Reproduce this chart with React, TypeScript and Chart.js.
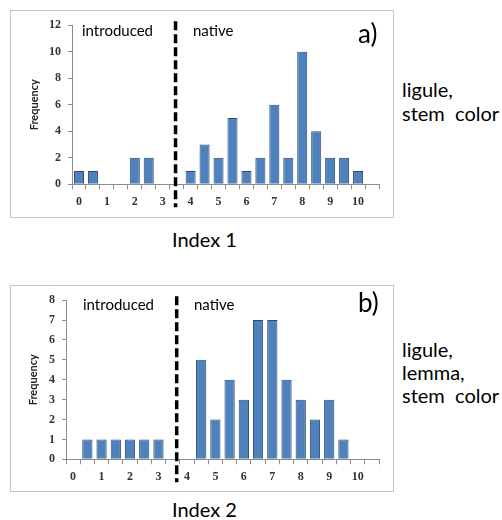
import React, { useEffect, useRef } from "react";
import { Chart, registerables } from "chart.js";

Chart.register(...registerables);

// Bin categories (index value, step 0.5)
const binLabels = [
  "0", "0.5", "1", "1.5", "2", "2.5", "3", "3.5", "4", "4.5", "5",
  "5.5", "6", "6.5", "7", "7.5", "8", "8.5", "9", "9.5", "10", "10.5",
];

// a) Index 1 (ligule, stem color)
const index1Freq = [1, 1, 0, 0, 2, 2, 0, 0, 1, 3, 2, 5, 1, 2, 6, 2, 10, 4, 2, 2, 1, 0];
const index1YMax = 12;
const index1YStep = 2;
const index1Divider = 3.46;

// b) Index 2 (ligule, lemma, stem color)
const index2Freq = [0, 1, 1, 1, 1, 1, 1, 0, 0, 5, 2, 4, 3, 7, 7, 4, 3, 2, 3, 1, 0, 0];
const index2YMax = 8;
const index2YStep = 1;
const index2Divider = 3.64;

const AXIS_GRAY = "#8c8c8c";
const TICK_FONT = { family: "'Liberation Serif', 'Times New Roman', serif", size: 12, weight: "bold" as const };
const TEXT_FONT = "Lato, 'Open Sans', sans-serif";

type HistProps = {
  freq: number[];
  yMax: number;
  yStep: number;
  divider: number;
  width: number;
  height: number;
  yWidth: number;
  xHeight: number;
  padTop: number;
  padRight: number;
  titlePad: number;
};

function HistChart(p: HistProps) {
  const ref = useRef<HTMLCanvasElement | null>(null);
  useEffect(() => {
    if (!ref.current) return;
    const dividerPlugin = {
      id: "divider",
      afterDraw(chart: any) {
        const xs = chart.scales.x;
        const { top, bottom } = chart.chartArea;
        const x = xs.getPixelForDecimal((p.divider / 0.5 + 0.5) / binLabels.length);
        const ctx = chart.ctx;
        ctx.save();
        ctx.setLineDash([9, 4]);
        ctx.lineWidth = 3.5;
        ctx.strokeStyle = "#000";
        ctx.beginPath();
        ctx.moveTo(x, top - 4);
        ctx.lineTo(x, bottom + 23);
        ctx.stroke();
        ctx.restore();
      },
    };
    const chart = new Chart(ref.current, {
      type: "bar",
      data: {
        labels: binLabels,
        datasets: [
          {
            data: p.freq,
            backgroundColor: "#4F81BD",
            borderColor: "#2B4A73",
            borderWidth: 1,
            barPercentage: 0.72,
            categoryPercentage: 1,
          },
        ],
      },
      options: {
        animation: false,
        responsive: false,
        layout: { padding: { top: p.padTop, right: p.padRight, left: 0, bottom: 0 } },
        plugins: { legend: { display: false }, tooltip: { enabled: false } },
        scales: {
          x: {
            offset: true,
            grid: {
              display: true,
              drawOnChartArea: false,
              drawTicks: true,
              tickLength: 5,
              color: AXIS_GRAY,
              offset: true,
            },
            border: { display: true, color: AXIS_GRAY, width: 1 },
            ticks: {
              autoSkip: false,
              maxRotation: 0,
              minRotation: 0,
              padding: 5,
              color: "#333",
              font: TICK_FONT,
              callback: (_v: any, i: number) => (i % 2 === 0 ? binLabels[i] : ""),
            },
            afterFit: (s: any) => {
              s.height = p.xHeight;
            },
          },
          y: {
            min: 0,
            max: p.yMax,
            grid: {
              display: true,
              drawOnChartArea: false,
              drawTicks: true,
              tickLength: 4,
              color: AXIS_GRAY,
            },
            border: { display: true, color: AXIS_GRAY, width: 1 },
            ticks: {
              stepSize: p.yStep,
              padding: 7,
              color: "#333",
              font: TICK_FONT,
            },
            title: {
              display: true,
              text: "Frequency",
              color: "#222",
              font: { family: TEXT_FONT, size: 11, weight: "bold" },
              padding: { top: p.titlePad, bottom: 0 },
            },
            afterFit: (s: any) => {
              s.width = p.yWidth;
            },
          },
        },
      },
      plugins: [dividerPlugin],
    });
    return () => chart.destroy();
  }, []);
  return <canvas ref={ref} width={p.width} height={p.height} style={{ display: "block" }} />;
}

const abs = (left: number, top: number, extra: React.CSSProperties = {}): React.CSSProperties => ({
  position: "absolute",
  left,
  top,
  whiteSpace: "pre",
  fontFamily: TEXT_FONT,
  color: "#000",
  ...extra,
});

export default function App() {
  return (
    <div style={{ position: "absolute", left: 0, top: 0, width: 502, height: 520, background: "#fff", overflow: "hidden" }}>
      {/* Panel a */}
      <div style={{ position: "absolute", left: 10, top: 10, width: 382, height: 206, border: "1px solid #c4c4c4" }}>
        <HistChart
          freq={index1Freq}
          yMax={index1YMax}
          yStep={index1YStep}
          divider={index1Divider}
          width={382}
          height={206}
          yWidth={61}
          xHeight={32.7}
          padTop={13.3}
          padRight={14}
          titlePad={17}
        />
      </div>
      <span style={abs(82, 21, { fontSize: 15, lineHeight: "18px" })}>introduced</span>
      <span style={abs(193, 21, { fontSize: 15, lineHeight: "18px" })}>native</span>
      <span style={abs(358, 18, { fontSize: 26, lineHeight: "31px" })}>a)</span>
      <span style={abs(172, 227, { fontSize: 20, lineHeight: "24px" })}>Index 1</span>
      <span style={abs(402, 77, { fontSize: 20, lineHeight: "24px" })}>{"ligule,\nstem  color"}</span>

      {/* Panel b */}
      <div style={{ position: "absolute", left: 10, top: 285, width: 382, height: 205, border: "1px solid #c4c4c4" }}>
        <HistChart
          freq={index2Freq}
          yMax={index2YMax}
          yStep={index2YStep}
          divider={index2Divider}
          width={382}
          height={205}
          yWidth={55}
          xHeight={31.7}
          padTop={12.3}
          padRight={14}
          titlePad={16}
        />
      </div>
      <span style={abs(83, 295, { fontSize: 15, lineHeight: "18px" })}>introduced</span>
      <span style={abs(194, 295, { fontSize: 15, lineHeight: "18px" })}>native</span>
      <span style={abs(358, 287, { fontSize: 26, lineHeight: "31px" })}>b)</span>
      <span style={abs(172, 497, { fontSize: 20, lineHeight: "24px" })}>Index 2</span>
      <span style={abs(402, 338, { fontSize: 20, lineHeight: "23px" })}>{"ligule,\nlemma,\nstem  color"}</span>
    </div>
  );
}
